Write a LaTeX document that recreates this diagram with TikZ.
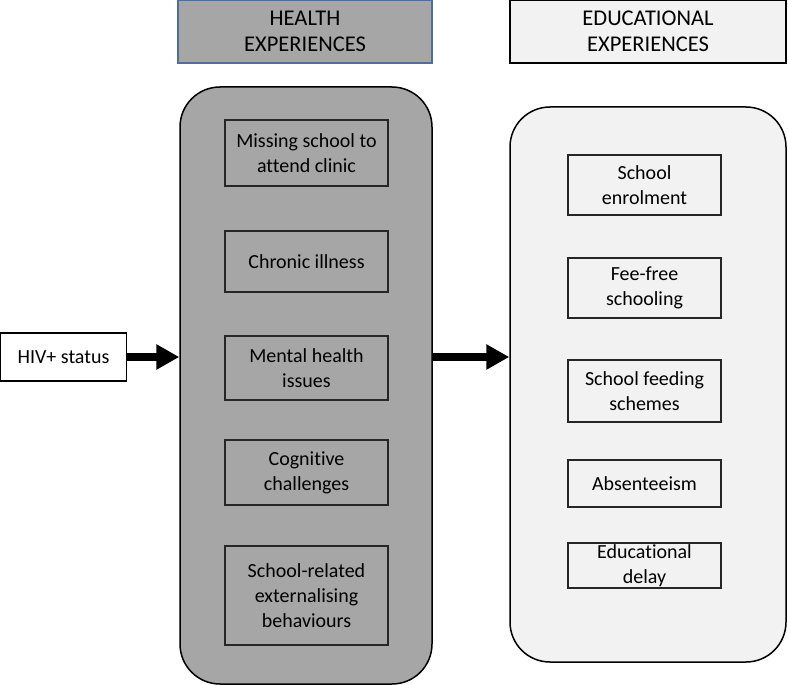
\documentclass[tikz,border=0pt]{standalone}
\usepackage{fontspec}
\setmainfont[Ligatures=NoCommon]{Carlito}
\usetikzlibrary{arrows.meta}
\definecolor{hgray}{HTML}{A6A6A6}
\definecolor{elight}{HTML}{F2F2F2}
\definecolor{hblue}{HTML}{4E6E9C}
\tikzset{
  panel/.style={draw=black, line width=1.5pt, rounded corners=40pt},
  hdr/.style={line width=1.3pt, align=center, inner sep=0pt,
    font=\fontsize{22.5}{26.5}\selectfont},
  itembox/.style={draw=black!85, line width=1.4pt, align=center, inner sep=0pt,
    font=\fontsize{20}{25}\selectfont},
  bigarrow/.style={line width=8pt, -{Triangle[length=23pt,width=24pt]}}
}
\begin{document}
\begin{tikzpicture}[x=1pt,y=-1pt]
\useasboundingbox (0,0) rectangle (788,685);
% headers
\node[hdr, draw=hblue, fill=hgray, minimum width=254pt, minimum height=63pt] (hhead) at (305,31.5) {HEALTH\\EXPERIENCES};
\node[hdr, draw=black, fill=elight, minimum width=276pt, minimum height=63pt] (ehead) at (648,31.5) {EDUCATIONAL\\EXPERIENCES};
% panels
\node[panel, fill=hgray, minimum width=252pt, minimum height=597pt, inner sep=0pt] (hpanel) at (306,385.5) {};
\node[panel, fill=elight, minimum width=276pt, minimum height=555pt, inner sep=0pt] (epanel) at (648,384.5) {};
% health items
\node[itembox, fill=hgray, minimum width=163pt, minimum height=66pt] (h1) at (306.5,153) {Missing school to\\attend clinic};
\node[itembox, fill=hgray, minimum width=163pt, minimum height=61pt] (h2) at (306.5,261.5) {Chronic illness};
\node[itembox, fill=hgray, minimum width=163pt, minimum height=64pt] (h3) at (306.5,368) {Mental health\\issues};
\node[itembox, fill=hgray, minimum width=163pt, minimum height=65pt] (h4) at (306.5,472.5) {Cognitive\\challenges};
\node[itembox, fill=hgray, minimum width=163pt, minimum height=99pt] (h5) at (306.5,595.5) {School-related\\externalising\\behaviours};
% education items
\node[itembox, fill=elight, minimum width=153pt, minimum height=60pt] (e1) at (644.5,185) {School\\enrolment};
\node[itembox, fill=elight, minimum width=153pt, minimum height=60pt] (e2) at (644.5,288) {Fee-free\\schooling};
\node[itembox, fill=elight, minimum width=153pt, minimum height=62pt] (e3) at (644.5,391) {School feeding\\schemes};
\node[itembox, fill=elight, minimum width=153pt, minimum height=47pt] (e4) at (644.5,483.5) {Absenteeism};
\node[itembox, fill=elight, minimum width=153pt, minimum height=45pt] (e5) at (644.5,565.5) {Educational\\delay};
% HIV box
\node[itembox, draw=black, fill=white, minimum width=126pt, minimum height=48pt] (hiv) at (63.5,357) {HIV+ status};
% arrows
\draw[bigarrow] (hiv.east) -- (hiv.east -| hpanel.west);
\draw[bigarrow] (hpanel.east |- hiv.east) -- (epanel.west |- hiv.east);
\end{tikzpicture}
\end{document}
